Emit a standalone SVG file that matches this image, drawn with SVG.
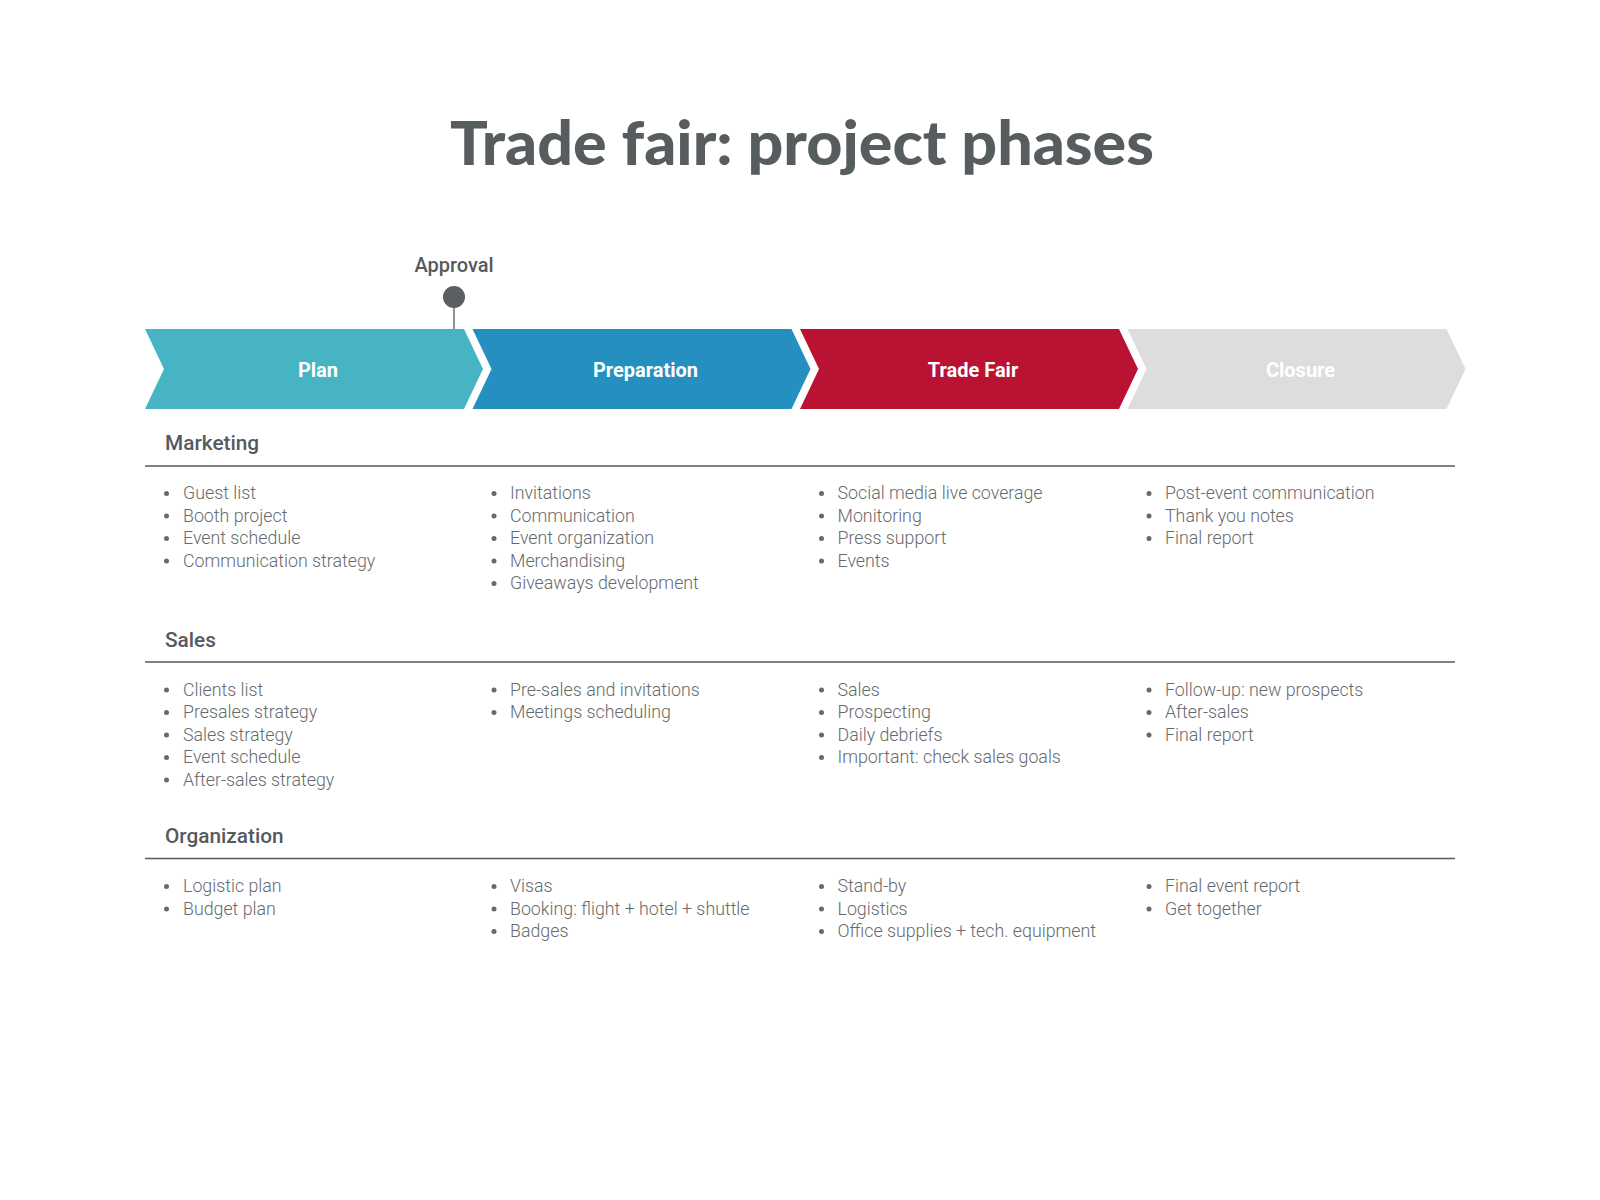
<svg xmlns="http://www.w3.org/2000/svg" width="1600" height="1200" viewBox="0 0 1600 1200">
<style>
.title{font-family:Lato,"Liberation Sans",sans-serif;font-weight:900;font-size:60px;fill:#575c5f}
.phase{font-family:Roboto,"Liberation Sans",sans-serif;font-weight:700;font-size:20px;fill:#ffffff;text-anchor:middle}
.appr{font-family:Roboto,"Liberation Sans",sans-serif;font-weight:500;font-size:20px;fill:#555a5e;text-anchor:middle}
.hdr{font-family:Roboto,"Liberation Sans",sans-serif;font-weight:500;font-size:20.8px;fill:#555a5e}
.item{font-family:Roboto,"Liberation Sans",sans-serif;font-weight:300;font-size:17.8px;fill:#666a6d}
.rule{stroke:#55595c;stroke-width:1.6}
.b{fill:#666a6d}
</style>
<defs>
<path id="chev" d="M0,0 L319,0 L338,40 L319,80 L0,80 L19,40 Z"/>
<circle id="dot" r="2.5" cx="0" cy="0"/>
</defs>
<rect width="1600" height="1200" fill="#ffffff"/>
<text class="title" x="802" y="165" text-anchor="middle" textLength="704" lengthAdjust="spacingAndGlyphs">Trade fair: project phases</text>

<g id="phase-plan">
<use href="#chev" x="145" y="329" fill="#47b4c3"/>
<text class="phase" x="318" y="377">Plan</text>
</g>
<g id="phase-preparation">
<use href="#chev" x="472.5" y="329" fill="#2590c0"/>
<text class="phase" x="645.5" y="377">Preparation</text>
</g>
<g id="phase-tradefair">
<use href="#chev" x="800" y="329" fill="#b91233"/>
<text class="phase" x="973" y="377">Trade Fair</text>
</g>
<g id="phase-closure">
<use href="#chev" x="1127.5" y="329" fill="#dddddd"/>
<text class="phase" x="1300.5" y="377">Closure</text>
</g>

<g id="connectors">
<line x1="454" y1="297" x2="454" y2="329" stroke="#6a6e71" stroke-width="1.5"/>
</g>
<g id="milestone-approval">
<circle cx="454" cy="297" r="11" fill="#5a5f62"/>
<text class="appr" x="454" y="272">Approval</text>
</g>

<g id="section-marketing">
<text class="hdr" x="165" y="450">Marketing</text>
<line class="rule" x1="145" y1="466" x2="1455" y2="466"/>
<g class="b">
<use href="#dot" x="166.5" y="493.5"/><use href="#dot" x="166.5" y="516"/><use href="#dot" x="166.5" y="538.5"/><use href="#dot" x="166.5" y="561"/>
<use href="#dot" x="494" y="493.5"/><use href="#dot" x="494" y="516"/><use href="#dot" x="494" y="538.5"/><use href="#dot" x="494" y="561"/><use href="#dot" x="494" y="583.5"/>
<use href="#dot" x="821.5" y="493.5"/><use href="#dot" x="821.5" y="516"/><use href="#dot" x="821.5" y="538.5"/><use href="#dot" x="821.5" y="561"/>
<use href="#dot" x="1149" y="493.5"/><use href="#dot" x="1149" y="516"/><use href="#dot" x="1149" y="538.5"/>
</g>
<g class="item">
<text x="183" y="499">Guest list</text>
<text x="183" y="521.5">Booth project</text>
<text x="183" y="544">Event schedule</text>
<text x="183" y="566.5">Communication strategy</text>

<text x="510" y="499">Invitations</text>
<text x="510" y="521.5">Communication</text>
<text x="510" y="544">Event organization</text>
<text x="510" y="566.5">Merchandising</text>
<text x="510" y="589">Giveaways development</text>

<text x="837.5" y="499">Social media live coverage</text>
<text x="837.5" y="521.5">Monitoring</text>
<text x="837.5" y="544">Press support</text>
<text x="837.5" y="566.5">Events</text>

<text x="1165" y="499">Post-event communication</text>
<text x="1165" y="521.5">Thank you notes</text>
<text x="1165" y="544">Final report</text>
</g>
</g>

<g id="section-sales">
<text class="hdr" x="165" y="646.5">Sales</text>
<line class="rule" x1="145" y1="662" x2="1455" y2="662"/>
<g class="b">
<use href="#dot" x="166.5" y="690"/><use href="#dot" x="166.5" y="712.5"/><use href="#dot" x="166.5" y="735"/><use href="#dot" x="166.5" y="757.5"/><use href="#dot" x="166.5" y="780"/>
<use href="#dot" x="494" y="690"/><use href="#dot" x="494" y="712.5"/>
<use href="#dot" x="821.5" y="690"/><use href="#dot" x="821.5" y="712.5"/><use href="#dot" x="821.5" y="735"/><use href="#dot" x="821.5" y="757.5"/>
<use href="#dot" x="1149" y="690"/><use href="#dot" x="1149" y="712.5"/><use href="#dot" x="1149" y="735"/>
</g>
<g class="item">
<text x="183" y="695.5">Clients list</text>
<text x="183" y="718">Presales strategy</text>
<text x="183" y="740.5">Sales strategy</text>
<text x="183" y="763">Event schedule</text>
<text x="183" y="785.5">After-sales strategy</text>

<text x="510" y="695.5">Pre-sales and invitations</text>
<text x="510" y="718">Meetings scheduling</text>

<text x="837.5" y="695.5">Sales</text>
<text x="837.5" y="718">Prospecting</text>
<text x="837.5" y="740.5">Daily debriefs</text>
<text x="837.5" y="763">Important: check sales goals</text>

<text x="1165" y="695.5">Follow-up: new prospects</text>
<text x="1165" y="718">After-sales</text>
<text x="1165" y="740.5">Final report</text>
</g>
</g>

<g id="section-organization">
<text class="hdr" x="165" y="843">Organization</text>
<line class="rule" x1="145" y1="858.5" x2="1455" y2="858.5"/>
<g class="b">
<use href="#dot" x="166.5" y="886.5"/><use href="#dot" x="166.5" y="909"/>
<use href="#dot" x="494" y="886.5"/><use href="#dot" x="494" y="909"/><use href="#dot" x="494" y="931.5"/>
<use href="#dot" x="821.5" y="886.5"/><use href="#dot" x="821.5" y="909"/><use href="#dot" x="821.5" y="931.5"/>
<use href="#dot" x="1149" y="886.5"/><use href="#dot" x="1149" y="909"/>
</g>
<g class="item">
<text x="183" y="892">Logistic plan</text>
<text x="183" y="914.5">Budget plan</text>

<text x="510" y="892">Visas</text>
<text x="510" y="914.5">Booking: flight + hotel + shuttle</text>
<text x="510" y="937">Badges</text>

<text x="837.5" y="892">Stand-by</text>
<text x="837.5" y="914.5">Logistics</text>
<text x="837.5" y="937">Office supplies + tech. equipment</text>

<text x="1165" y="892">Final event report</text>
<text x="1165" y="914.5">Get together</text>
</g>
</g>
</svg>
